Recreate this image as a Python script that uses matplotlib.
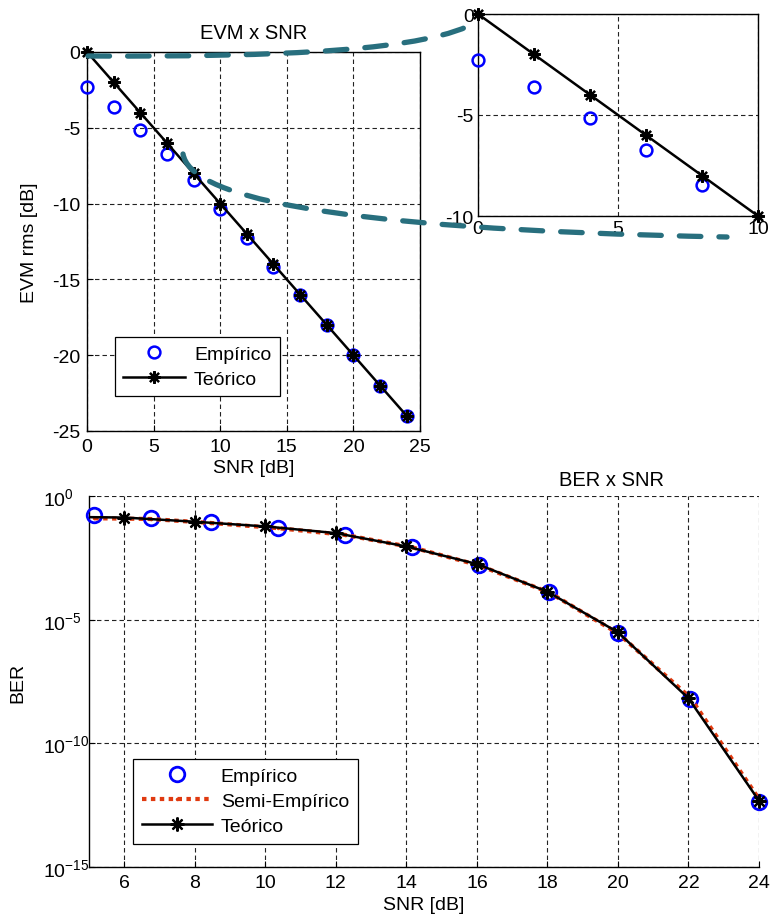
import matplotlib
matplotlib.use('Agg')
import matplotlib.pyplot as plt
from matplotlib.path import Path
from matplotlib.patches import PathPatch
from matplotlib.lines import Line2D
from matplotlib.ticker import FixedLocator, NullLocator

# ---- EVM vs SNR ----
evm_snr = [0, 2, 4, 6, 8, 10, 12, 14, 16, 18, 20, 22, 24]
evm_empirico = [-2.3, -3.6, -5.15, -6.75, -8.45, -10.35, -12.25, -14.15,
                -16.0, -18.0, -20.0, -22.0, -24.0]
evm_teorico = [0, -2, -4, -6, -8, -10, -12, -14, -16, -18, -20, -22, -24]

# ---- BER vs SNR ----
ber_emp_snr = [5.15, 6.75, 8.45, 10.35, 12.25, 14.15, 16.05, 18.05, 20.0, 22.05, 24.0]
ber_empirico = [10**v for v in [-0.76, -0.90, -1.07, -1.31, -1.58, -2.05,
                                -2.79, -3.87, -5.55, -8.21, -12.39]]
ber_semi_snr = [5.15, 6.75, 8.45, 10.35, 12.25, 14.15, 16.05, 18.05, 20.0, 22.05, 24.0]
ber_semi = [10**v for v in [-0.90, -0.93, -1.09, -1.30, -1.57, -2.07,
                            -2.80, -3.90, -5.55, -8.15, -12.25]]
ber_teo_snr = [4, 6, 8, 10, 12, 14, 16, 18, 20, 22, 24]
ber_teorico = [10**v for v in [-0.84, -0.87, -1.04, -1.23, -1.50, -2.04,
                               -2.75, -3.87, -5.51, -8.18, -12.32]]

plt.rcParams['font.family'] = ['Liberation Sans', 'DejaVu Sans']
plt.rcParams['font.size'] = 14
plt.rcParams['mathtext.fontset'] = 'custom'
plt.rcParams['mathtext.rm'] = 'Liberation Sans'
plt.rcParams['mathtext.it'] = 'Liberation Sans:italic'
plt.rcParams['mathtext.bf'] = 'Liberation Sans:bold'
plt.rcParams['axes.unicode_minus'] = False
plt.rcParams['lines.scale_dashes'] = False

W, H = 771, 920
fig = plt.figure(figsize=(W / 100, H / 100), dpi=100)


def px_rect(l, t, r, b):
    return [l / W, 1 - b / H, (r - l) / W, (b - t) / H]


BLUE = '#0000ff'
RED = '#e03a10'
TEAL = '#286f7e'
GRID_KW = dict(color='#222222', linewidth=0.8, linestyle=(0, (3.2, 2.2)))
ASTER = (8, 2, 0)


def style_axes(ax):
    ax.tick_params(direction='in', length=4, width=0.8, pad=5, labelsize=14,
                   top=False, right=False)
    for s in ax.spines.values():
        s.set_linewidth(1.0)


# ---- main EVM panel ----
ax1 = fig.add_axes(px_rect(87, 53, 420, 432))
ax1.plot(evm_snr, evm_empirico, linestyle='none', marker='o', mfc='none',
         mec=BLUE, ms=8.5, mew=1.8, clip_on=False, zorder=3, label='Empírico')
ax1.plot(evm_snr, evm_teorico, color='k', lw=1.8, marker=ASTER, ms=9, mew=1.6,
         clip_on=False, zorder=4, label='Teórico')
ax1.set_xlim(0, 25)
ax1.set_ylim(-25, 0)
ax1.set_xticks(range(0, 26, 5))
ax1.set_yticks(range(-25, 1, 5))
ax1.grid(True, **GRID_KW)
style_axes(ax1)
ax1.set_title('EVM x SNR', fontsize=14.5, pad=10)
ax1.set_xlabel('SNR [dB]', fontsize=14, labelpad=3)
ax1.set_ylabel('EVM rms [dB]', fontsize=14, labelpad=10)
leg1 = ax1.legend(loc='lower left', bbox_to_anchor=(0.084, 0.092),
                  borderaxespad=0, fancybox=False, framealpha=1,
                  edgecolor='k', handlelength=3.2, labelspacing=0.4,
                  fontsize=14, handletextpad=0.45, borderpad=0.42)
leg1.get_frame().set_linewidth(0.9)

# ---- inset: first 10 dB ----
ax2 = fig.add_axes(px_rect(478, 15, 758, 217))
ax2.plot(evm_snr[:5], evm_empirico[:5], linestyle='none', marker='o',
         mfc='none', mec=BLUE, ms=8.5, mew=1.8, clip_on=False, zorder=3)
ax2.plot(evm_snr[:6], evm_teorico[:6], color='k', lw=1.8, marker=ASTER, ms=9,
         mew=1.6, clip_on=False, zorder=4)
ax2.set_xlim(0, 10)
ax2.set_ylim(-10, 0)
ax2.set_xticks([0, 5, 10])
ax2.set_yticks([-10, -5, 0])
ax2.grid(True, **GRID_KW)
style_axes(ax2)
ax2.tick_params(length=0, pad=3)

# ---- BER panel ----
ax3 = fig.add_axes(px_rect(89, 497, 759, 868))
ax3.semilogy(ber_emp_snr, ber_empirico, linestyle='none', marker='o',
             mfc='none', mec=BLUE, ms=10.5, mew=2.0, clip_on=False, zorder=3)
ax3.semilogy(ber_semi_snr, ber_semi, color=RED, lw=3.0,
             linestyle=(0, (3.2, 3.2)), dash_capstyle='butt', marker='.',
             ms=3, zorder=4)
ax3.semilogy(ber_teo_snr, ber_teorico, color='k', lw=1.8, zorder=5)
ax3.semilogy(ber_teo_snr[1:], ber_teorico[1:], linestyle='none', marker=ASTER,
             color='k', ms=10, mew=1.6, clip_on=False, zorder=6)
ax3.set_xlim(5, 24)
ax3.set_ylim(1e-15, 1e0)
ax3.set_xticks(range(6, 25, 2))
ax3.yaxis.set_major_locator(FixedLocator([1e-15, 1e-10, 1e-5, 1e0]))
ax3.yaxis.set_minor_locator(NullLocator())
ax3.grid(True, **GRID_KW)
style_axes(ax3)
ax3.spines['top'].set_visible(False)
ax3.spines['right'].set_visible(False)
ax3.tick_params(axis='y', pad=33)
for lbl in ax3.get_yticklabels():
    lbl.set_horizontalalignment('left')
ax3.set_title('BER x SNR', fontsize=14.5, x=0.78, pad=8)
ax3.set_xlabel('SNR [dB]', fontsize=14, labelpad=4)
ax3.set_ylabel('BER', fontsize=14, labelpad=12)

handles = [
    Line2D([], [], linestyle='none', marker='o', mfc='none', mec=BLUE,
           ms=10.5, mew=2.0),
    Line2D([], [], color=RED, lw=3.0, linestyle=(0, (3.2, 3.2)),
           dash_capstyle='butt', marker='.', ms=3),
    Line2D([], [], color='k', lw=1.8, marker=ASTER, ms=10, mew=1.6),
]
leg3 = ax3.legend(handles, ['Empírico', 'Semi-Empírico', 'Teórico'],
                  loc='lower left', bbox_to_anchor=(0.066, 0.062),
                  borderaxespad=0, fancybox=False, framealpha=1,
                  edgecolor='k', handlelength=3.6, labelspacing=0.38,
                  fontsize=14, handletextpad=0.45, borderpad=0.45)
leg3.get_frame().set_linewidth(0.9)

# ---- dashed zoom guides between the main panel and the inset ----


def guide(pts):
    verts = [(x / W, 1 - y / H) for x, y in pts]
    codes = [Path.MOVETO, Path.CURVE4, Path.CURVE4, Path.CURVE4]
    patch = PathPatch(Path(verts, codes), transform=fig.transFigure,
                      fill=False, edgecolor=TEAL, linewidth=3.8,
                      linestyle=(0, (15.5, 13)), capstyle='round', zorder=10)
    fig.add_artist(patch)


guide([(88, 57), (280, 58), (430, 52), (478, 22)])
guide([(183, 155), (190, 195), (310, 230), (727, 238)])

fig.savefig('out.png', dpi=100)
